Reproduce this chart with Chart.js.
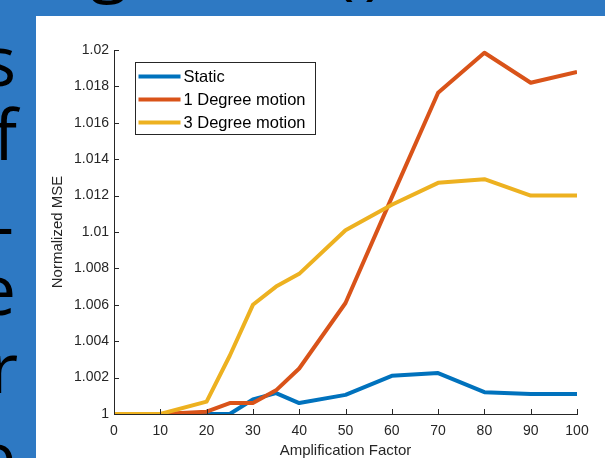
<!DOCTYPE html>
<html>
<head>
<meta charset="utf-8">
<script src="https://cdn.jsdelivr.net/npm/chart.js@4.4.0/dist/chart.umd.min.js"></script>
<style>
  html, body { margin: 0; padding: 0; }
  body { width: 605px; height: 458px; overflow: hidden; position: relative; background: #2e79c3; font-family: "Open Sans", sans-serif; }
  .slide { position: absolute; color: #000; font-size: 70px; line-height: 1; white-space: nowrap; }
  .side { right: 589px; text-align: right; }
  #panel { position: absolute; left: 36px; top: 16px; width: 569px; height: 442px; background: #fff; }
</style>
</head>
<body>
<!-- slide text behind the chart, mostly cut off -->
<div class="slide side" style="top: 24px;">s</div>
<div class="slide side" style="top: 98px; right: 588px;">f</div>
<div class="slide side" style="top: 188px; right: 591px;">-</div>
<div class="slide side" style="top: 253px;">e</div>
<div class="slide side" style="top: 331px; right: 587px;">r</div>
<div class="slide side" style="top: 420px;">e</div>
<div class="slide" style="left: 90px; top: -74px;">g</div>
<div class="slide" style="left: 334px; top: -71px;">(</div>
<div class="slide" style="left: 364px; top: -71px;">)</div>

<div id="panel"><canvas id="mse" width="569" height="442"></canvas></div>

<script>
const amplification = [0, 10, 20, 25, 30, 35, 40, 50, 60, 70, 80, 90, 100];
const staticMse = [1, 1, 1, 1, 1.0008, 1.00115, 1.0006, 1.00105, 1.0021, 1.00225, 1.0012, 1.0011, 1.0011];
const oneDegMse = [1, 1, 1.00013, 1.0006, 1.0006, 1.0013, 1.0025, 1.0061, 1.0119, 1.01765, 1.01985, 1.0182, 1.0188];
const threeDegMse = [1, 1, 1.00068, 1.0032, 1.006, 1.007, 1.0077, 1.0101, 1.0115, 1.0127, 1.0129, 1.012, 1.012];
const seriesNames = ["Static", "1 Degree motion", "3 Degree motion"];

const axisColor = "#262626";
const fontFamily = "'Liberation Sans', Arial, sans-serif";

function points(values) {
  return amplification.map((a, i) => ({ x: a, y: values[i] }));
}

// MATLAB style ticks pointing into the plot
const innerTicks = {
  id: "innerTicks",
  afterDraw(chart) {
    const ctx = chart.ctx;
    const area = chart.chartArea;
    const len = 5;
    ctx.save();
    ctx.strokeStyle = axisColor;
    ctx.lineWidth = 1;
    ctx.beginPath();
    chart.scales.x.ticks.forEach((t) => {
      const px = Math.round(chart.scales.x.getPixelForValue(t.value)) + 0.5;
      ctx.moveTo(px, area.bottom);
      ctx.lineTo(px, area.bottom - len);
    });
    chart.scales.y.ticks.forEach((t) => {
      const py = Math.round(chart.scales.y.getPixelForValue(t.value)) + 0.5;
      ctx.moveTo(area.left, py);
      ctx.lineTo(area.left + len, py);
    });
    ctx.stroke();
    ctx.restore();
  },
};

// boxed legend in the upper left of the axes
const boxLegend = {
  id: "boxLegend",
  afterDraw(chart) {
    const ctx = chart.ctx;
    const x0 = 99.5, y0 = 46.5, w = 180, h = 72;
    ctx.save();
    ctx.fillStyle = "#fff";
    ctx.fillRect(x0, y0, w, h);
    ctx.strokeStyle = axisColor;
    ctx.lineWidth = 1;
    ctx.strokeRect(x0, y0, w, h);
    ctx.font = "16.5px " + fontFamily;
    ctx.textBaseline = "middle";
    chart.data.datasets.forEach((ds, i) => {
      const y = y0 + 14 + i * 23;
      ctx.strokeStyle = ds.borderColor;
      ctx.lineWidth = 4;
      ctx.beginPath();
      ctx.moveTo(x0 + 3, y);
      ctx.lineTo(x0 + 45, y);
      ctx.stroke();
      ctx.fillStyle = "#000";
      ctx.fillText(ds.label, x0 + 48, y + 1);
    });
    ctx.restore();
  },
};

new Chart(document.getElementById("mse"), {
  type: "line",
  data: {
    datasets: [
      { label: seriesNames[0], data: points(staticMse), borderColor: "#0072BD", order: 2 },
      { label: seriesNames[1], data: points(oneDegMse), borderColor: "#D95319", order: 1 },
      { label: seriesNames[2], data: points(threeDegMse), borderColor: "#EDB120", order: 0 },
    ],
  },
  options: {
    responsive: false,
    animation: false,
    devicePixelRatio: 1,
    layout: { padding: { left: 0, right: 28, top: 34, bottom: 0 } },
    elements: {
      line: { borderWidth: 4, tension: 0, borderJoinStyle: "round" },
      point: { radius: 0 },
    },
    plugins: {
      legend: { display: false },
      tooltip: { enabled: false },
    },
    scales: {
      x: {
        type: "linear",
        min: 0,
        max: 100,
        afterFit: (s) => { s.height = 44; },
        ticks: { stepSize: 10, color: axisColor, padding: 9, maxRotation: 0, font: { family: fontFamily, size: 14 } },
        grid: { drawOnChartArea: false, drawTicks: false },
        border: { color: axisColor, width: 1 },
        title: {
          display: true,
          text: "Amplification Factor",
          color: axisColor,
          padding: { top: 0, bottom: 0 },
          font: { family: fontFamily, size: 15, lineHeight: 1 },
        },
      },
      y: {
        min: 1,
        max: 1.02,
        afterFit: (s) => { s.width = 78; },
        ticks: {
          stepSize: 0.002,
          color: axisColor,
          padding: 5,
          font: { family: fontFamily, size: 14 },
          callback: (v) => String(Number(v.toFixed(3))),
        },
        grid: { drawOnChartArea: false, drawTicks: false },
        border: { color: axisColor, width: 1 },
        title: {
          display: true,
          text: "Normalized MSE",
          color: axisColor,
          padding: { top: 14, bottom: 0 },
          font: { family: fontFamily, size: 15, lineHeight: 1 },
        },
      },
    },
  },
  plugins: [innerTicks, boxLegend],
});
</script>
</body>
</html>
